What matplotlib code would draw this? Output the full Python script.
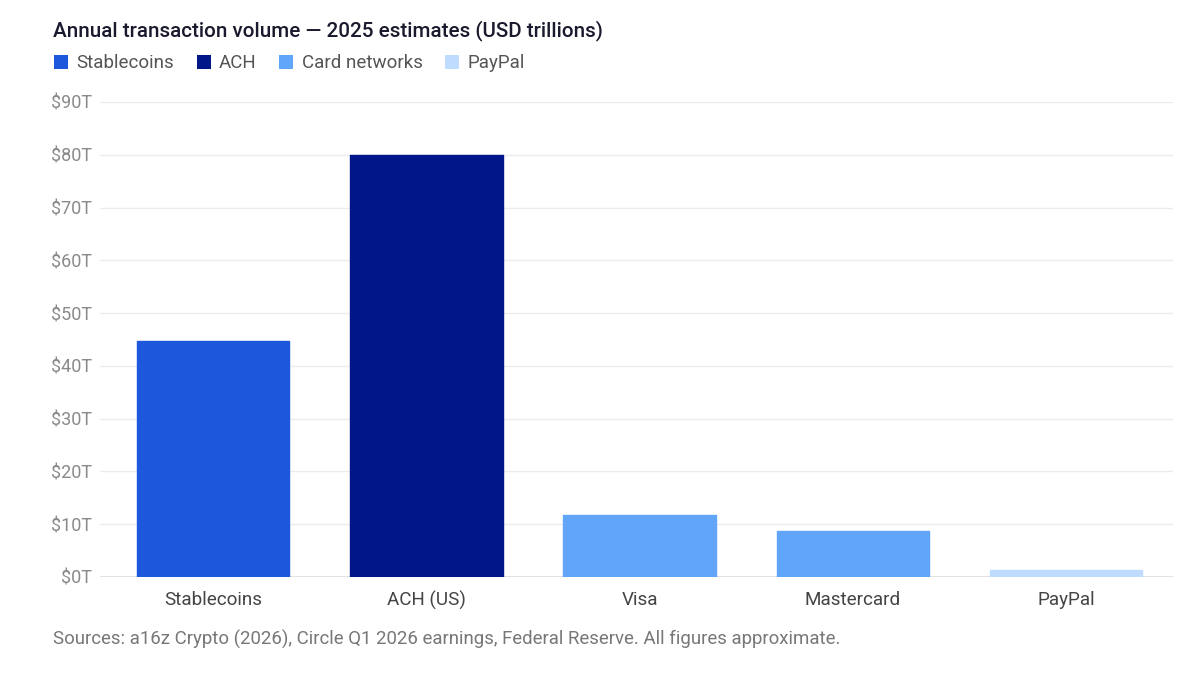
import matplotlib
matplotlib.use("Agg")
import matplotlib.pyplot as plt
from matplotlib.patches import Patch

# datos del grafico (billones USD, estimados 2025)
categorias = ["Stablecoins", "ACH (US)", "Visa", "Mastercard", "PayPal"]
volumen = [44.8, 80, 11.8, 8.8, 1.4]
grupo = ["Stablecoins", "ACH", "Card networks", "Card networks", "PayPal"]
grupos_leyenda = ["Stablecoins", "ACH", "Card networks", "PayPal"]
colores = {"Stablecoins": "#1d58dc", "ACH": "#001689",
           "Card networks": "#60a5fa", "PayPal": "#bfdbfe"}
ticks_y = [0, 10, 20, 30, 40, 50, 60, 70, 80, 90]

plt.rcParams['font.family'] = ['Roboto', 'DejaVu Sans']

fig = plt.figure(figsize=(12, 6.75), dpi=100)
ax = fig.add_axes([0.0833, 0.1452, 0.894, 0.7037])

x = list(range(len(categorias)))
cols = [colores[g] for g in grupo]
ax.bar(x, volumen, width=0.715, color=cols, edgecolor=cols,
       linewidth=1.0, joinstyle='round', zorder=3)

ax.set_ylim(0, 90)
ax.set_xlim(-0.53, 4.5)
ax.set_yticks(ticks_y)
ax.set_yticklabels(["$" + str(t) + "T" for t in ticks_y])
ax.set_xticks(x)
ax.set_xticklabels(categorias)
ax.grid(axis='y', color='#ececec', linewidth=1, zorder=0)
ax.axhline(0, color='#dddddd', linewidth=1.2, zorder=2)
for s in ax.spines.values():
    s.set_visible(False)
ax.tick_params(axis='y', length=0, pad=6, labelsize=13, labelcolor='#8a8a8a')
ax.tick_params(axis='x', length=0, pad=10, labelsize=13.6, labelcolor='#444444')

fig.text(0.044, 0.955, "Annual transaction volume \u2014 2025 estimates (USD trillions)",
         fontsize=14.9, fontweight='medium', color='#1a1a2e', va='center')

handles = [Patch(facecolor=colores[g], edgecolor='none') for g in grupos_leyenda]
fig.legend(handles, grupos_leyenda, loc='center left', bbox_to_anchor=(0.031, 0.906),
           ncol=4, frameon=False, fontsize=13.5, handlelength=0.75, handleheight=0.75,
           handletextpad=0.45, columnspacing=1.2, labelcolor='#555555')

fig.text(0.044, 0.052, "Sources: a16z Crypto (2026), Circle Q1 2026 earnings, Federal Reserve. All figures approximate.",
         fontsize=13.4, color='#777777', va='center')

fig.savefig("out.png", dpi=100)
